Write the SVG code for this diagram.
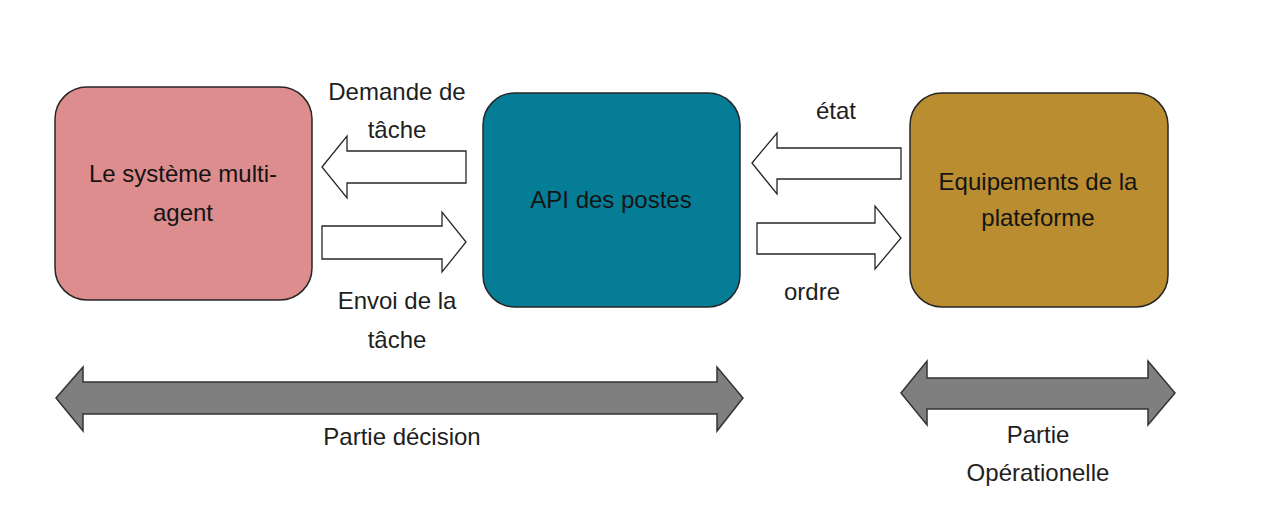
<svg xmlns="http://www.w3.org/2000/svg" width="1266" height="511" viewBox="0 0 1266 511">
  <style>
    .box { stroke: #262626; stroke-width: 1.5; }
    .flow { fill: #ffffff; stroke: #262626; stroke-width: 1.3; stroke-linejoin: miter; }
    .span { fill: #7f7f7f; stroke: #333333; stroke-width: 1.5; stroke-linejoin: miter; }
    text { font-family: "Liberation Sans", Arial, sans-serif; font-size: 24px; text-anchor: middle; fill: #1e1e1e; }
    .inbox { fill: #141414; }
  </style>

  <rect width="1266" height="511" fill="#ffffff"/>

  <!-- Nodes -->
  <g id="sma">
    <rect class="box" x="55" y="87" width="257" height="213" rx="32" ry="32" fill="#dd8d8d"/>
    <text class="inbox" x="183" y="182" font-size="25">Le système multi-</text>
    <text class="inbox" x="183" y="221" font-size="25">agent</text>
  </g>

  <g id="api">
    <rect class="box" x="483" y="93" width="257" height="214" rx="32" ry="32" fill="#057d96"/>
    <text class="inbox" x="611" y="208" font-size="22">API des postes</text>
  </g>

  <g id="equipements">
    <rect class="box" x="910" y="93" width="258" height="214" rx="32" ry="32" fill="#b98d30"/>
    <text class="inbox" x="1038" y="190" font-size="23">Equipements de la</text>
    <text class="inbox" x="1038" y="226" font-size="23">plateforme</text>
  </g>

  <!-- Connectors -->
  <g id="connectors">
    <!-- API -> SMA : Demande de tâche -->
    <polygon class="flow" points="322,167 347,136 347,151 466,151 466,183 347,183 347,198"/>
    <!-- SMA -> API : Envoi de la tâche -->
    <polygon class="flow" points="322,226 442,226 442,212 466,242 442,272 442,259 322,259"/>
    <!-- Equipements -> API : état -->
    <polygon class="flow" points="752,163 777,133 777,148 901,148 901,179 777,179 777,194"/>
    <!-- API -> Equipements : ordre -->
    <polygon class="flow" points="757,223 875,223 875,206 901,238 875,269 875,254 757,254"/>

    <text x="397" y="100">Demande de</text>
    <text x="397" y="138">tâche</text>
    <text x="397" y="309">Envoi de la</text>
    <text x="397" y="348">tâche</text>
    <text x="836" y="119">état</text>
    <text x="812" y="300">ordre</text>
  </g>

  <!-- Scope brackets -->
  <g id="partie-decision">
    <polygon class="span" points="56,398 83,367 83,382 717,382 717,367 743,398 717,431 717,414 83,414 83,431"/>
    <text x="402" y="445">Partie décision</text>
  </g>

  <g id="partie-operationelle">
    <polygon class="span" points="901,393 927,361 927,378 1148,378 1148,361 1175,393 1148,425 1148,409 927,409 927,425"/>
    <text x="1038" y="443">Partie</text>
    <text x="1038" y="481">Opérationelle</text>
  </g>
</svg>
